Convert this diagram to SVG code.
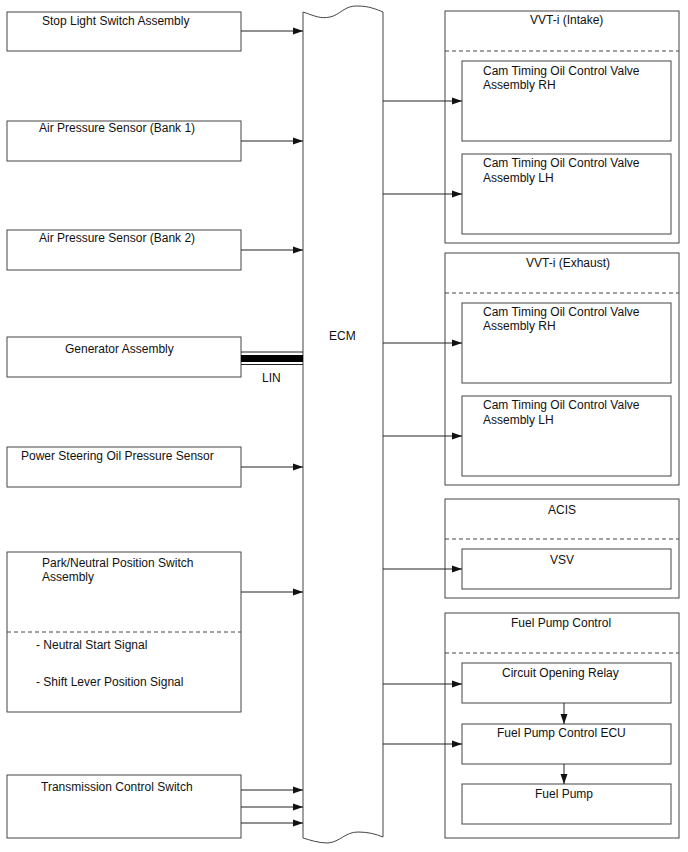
<svg xmlns="http://www.w3.org/2000/svg" width="688" height="852" viewBox="0 0 688 852">
<style>
.b{fill:#fff;stroke:#444;stroke-width:1}
.d{fill:none;stroke:#444;stroke-width:1;stroke-dasharray:4,3}
.c{fill:none;stroke:#222;stroke-width:1}
.a{marker-end:url(#ah)}
text{font-family:"Liberation Sans",Arial,sans-serif;font-size:12px;fill:#111}
</style>
<defs>
<marker id="ah" markerUnits="userSpaceOnUse" markerWidth="10" markerHeight="8" refX="10" refY="4" orient="auto">
<path d="M0,0.5 L10,4 L0,7.5 Z" fill="#111"/>
</marker>
</defs>
<rect width="688" height="852" fill="#fff"/>

<g id="ecm">
<path class="b" d="M303,12 C315,16 320,19 330,17 C340,15 345,5 358,6 C368,6 376,9 383,12 V837 C376,834 368,832 358,832 C345,832 340,842 328,843 C318,843 310,840 303,838 Z"/>
<text x="329" y="340">ECM</text>
</g>

<g id="stop-light">
<rect class="b" x="7" y="12" width="234" height="39"/>
<text x="42" y="25">Stop Light Switch Assembly</text>
</g>
<g id="air-bank1">
<rect class="b" x="7" y="121" width="234" height="40"/>
<text x="39" y="132">Air Pressure Sensor (Bank 1)</text>
</g>
<g id="air-bank2">
<rect class="b" x="7" y="230" width="234" height="40"/>
<text x="39" y="242">Air Pressure Sensor (Bank 2)</text>
</g>
<g id="generator">
<rect class="b" x="7" y="337" width="234" height="40"/>
<text x="65" y="353">Generator Assembly</text>
</g>
<g id="ps-sensor">
<rect class="b" x="7" y="447" width="234" height="40"/>
<text x="21" y="460">Power Steering Oil Pressure Sensor</text>
</g>
<g id="pn-switch">
<rect class="b" x="7" y="552" width="234" height="160"/>
<line class="d" x1="7" y1="632" x2="241" y2="632"/>
<text x="42" y="567">Park/Neutral Position Switch</text>
<text x="42" y="581">Assembly</text>
<text x="36" y="649">- Neutral Start Signal</text>
<text x="36" y="686">- Shift Lever Position Signal</text>
</g>
<g id="tcs">
<rect class="b" x="7" y="775" width="234" height="63"/>
<text x="41" y="791">Transmission Control Switch</text>
</g>

<g id="vvt-intake">
<rect class="b" x="445" y="11" width="234" height="232"/>
<line class="d" x1="445" y1="51" x2="679" y2="51"/>
<text x="530" y="24">VVT-i (Intake)</text>
<g id="int-rh">
<rect class="b" x="462" y="61" width="209" height="80"/>
<text x="483" y="75">Cam Timing Oil Control Valve</text>
<text x="483" y="89">Assembly RH</text>
</g>
<g id="int-lh">
<rect class="b" x="462" y="154" width="209" height="80"/>
<text x="483" y="167">Cam Timing Oil Control Valve</text>
<text x="483" y="182">Assembly LH</text>
</g>
</g>

<g id="vvt-exhaust">
<rect class="b" x="445" y="253" width="234" height="232"/>
<line class="d" x1="445" y1="293" x2="679" y2="293"/>
<text x="526" y="267">VVT-i (Exhaust)</text>
<g id="exh-rh">
<rect class="b" x="462" y="303" width="209" height="80"/>
<text x="483" y="316">Cam Timing Oil Control Valve</text>
<text x="483" y="330">Assembly RH</text>
</g>
<g id="exh-lh">
<rect class="b" x="462" y="396" width="209" height="80"/>
<text x="483" y="409">Cam Timing Oil Control Valve</text>
<text x="483" y="424">Assembly LH</text>
</g>
</g>

<g id="acis">
<rect class="b" x="445" y="499" width="234" height="99"/>
<line class="d" x1="445" y1="539" x2="679" y2="539"/>
<text x="548" y="514">ACIS</text>
<g id="vsv">
<rect class="b" x="462" y="549" width="209" height="40"/>
<text x="550" y="564">VSV</text>
</g>
</g>

<g id="fuel-pump-control">
<rect class="b" x="445" y="613" width="234" height="225"/>
<line class="d" x1="445" y1="653" x2="679" y2="653"/>
<text x="511" y="627">Fuel Pump Control</text>
<g id="cor">
<rect class="b" x="462" y="663" width="209" height="40"/>
<text x="502" y="677">Circuit Opening Relay</text>
</g>
<g id="fp-ecu">
<rect class="b" x="462" y="724" width="209" height="40"/>
<text x="497" y="737">Fuel Pump Control ECU</text>
</g>
<g id="fuel-pump">
<rect class="b" x="462" y="784" width="209" height="40"/>
<text x="535" y="798">Fuel Pump</text>
</g>
</g>

<g id="connectors">
<line class="c a" x1="241" y1="31" x2="303" y2="31"/>
<line class="c a" x1="241" y1="141" x2="303" y2="141"/>
<line class="c a" x1="241" y1="250" x2="303" y2="250"/>
<line class="c" x1="241" y1="352" x2="303" y2="352"/>
<line x1="241" y1="358.5" x2="303" y2="358.5" stroke="#000" stroke-width="7"/>
<line class="c" x1="241" y1="364.5" x2="303" y2="364.5"/>
<text x="262" y="382">LIN</text>
<line class="c a" x1="241" y1="467" x2="303" y2="467"/>
<line class="c a" x1="241" y1="592" x2="303" y2="592"/>
<line class="c a" x1="241" y1="790" x2="303" y2="790"/>
<line class="c a" x1="241" y1="807" x2="303" y2="807"/>
<line class="c a" x1="241" y1="823" x2="303" y2="823"/>
<line class="c a" x1="383" y1="101" x2="462" y2="101"/>
<line class="c a" x1="383" y1="194" x2="462" y2="194"/>
<line class="c a" x1="383" y1="343" x2="462" y2="343"/>
<line class="c a" x1="383" y1="436" x2="462" y2="436"/>
<line class="c a" x1="383" y1="569" x2="462" y2="569"/>
<line class="c a" x1="383" y1="684" x2="462" y2="684"/>
<line class="c a" x1="383" y1="744" x2="462" y2="744"/>
<line class="c a" x1="564" y1="703" x2="564" y2="724"/>
<line class="c a" x1="564" y1="764" x2="564" y2="784"/>
</g>
</svg>
